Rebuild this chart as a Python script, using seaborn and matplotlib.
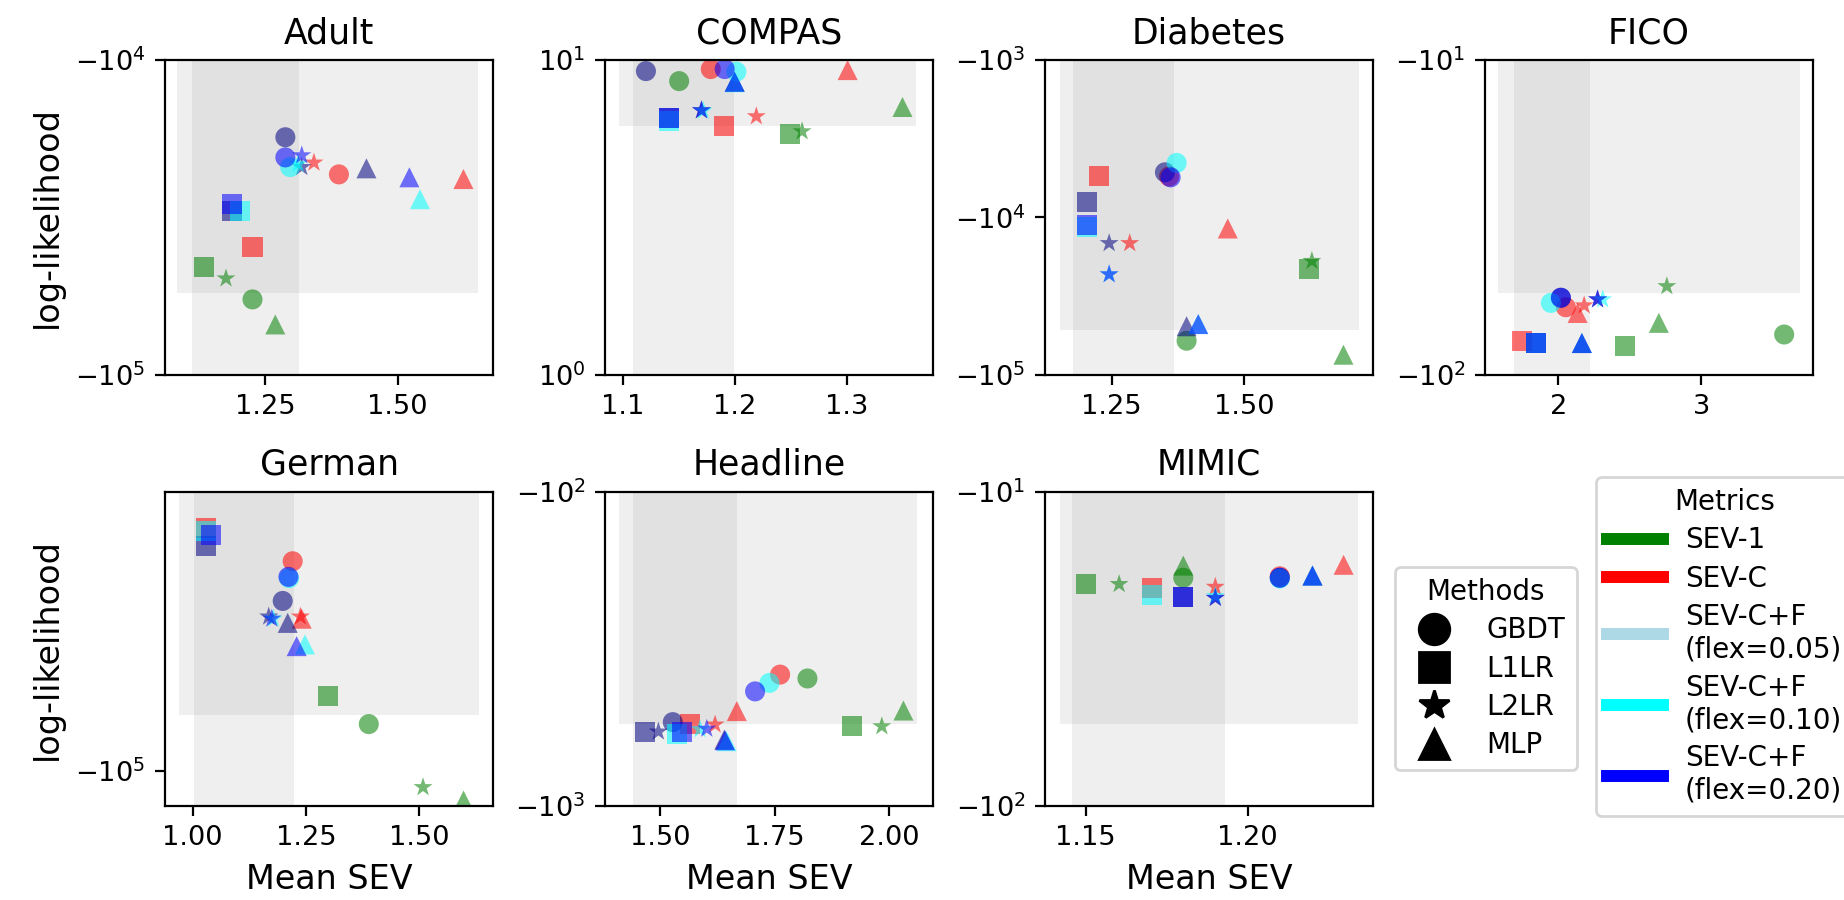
import numpy as np
import pandas as pd
import matplotlib
matplotlib.use('Agg')
import matplotlib.pyplot as plt
from matplotlib.lines import Line2D
from matplotlib.ticker import NullLocator
import seaborn as sns

DATASETS = ['Adult', 'COMPAS', 'Diabetes', 'FICO', 'German', 'Headline', 'MIMIC']
METRICS = ['SEV-1', 'SEV-C', 'SEV-C+F\n(flex=0.05)', 'SEV-C+F\n(flex=0.10)', 'SEV-C+F\n(flex=0.20)']
METHODS = ['GBDT', 'L1LR', 'L2LR', 'MLP']
MARKERS = ['o', 's', '*', '^']
POINT_COLORS = ['green', 'red', 'navy', 'cyan', 'blue']
LEGEND_COLORS = ['green', 'red', 'lightblue', 'cyan', 'blue']

# rows = metrics (SEV-1, SEV-C, flex .05, .10, .20), cols = GBDT, L1LR, L2LR, MLP
ADULT_X = [[1.226, 1.134, 1.176, 1.269],
           [1.389, 1.226, 1.342, 1.624],
           [1.288, 1.187, 1.319, 1.441],
           [1.297, 1.203, 1.312, 1.542],
           [1.288, 1.187, 1.319, 1.522]]
ADULT_Y = [[-57700, -45400, -49500, -69300],
           [-23100, -39400, -21200, -23900],
           [-17600, -30100, -21900, -22100],
           [-21900, -30100, -21400, -27700],
           [-20400, -28700, -20100, -23600]]

COMPAS_X = [[1.1505, 1.2489, 1.2601, 1.3496],
            [1.1787, 1.1905, 1.2193, 1.3007],
            [1.1209, 1.1416, 1.1704, 1.2000],
            [1.2015, 1.1416, 1.1720, 1.2000],
            [1.1911, 1.1416, 1.1704, 1.2000]]
COMPAS_Y = [[8.57, 5.83, 5.93, 7.09],
            [9.36, 6.19, 6.62, 9.29],
            [9.22, 6.52, 6.92, 8.53],
            [9.18, 6.42, 6.90, 8.50],
            [9.36, 6.52, 6.92, 8.53]]

DIABETES_X = [[1.391, 1.6209, 1.6272, 1.6867],
              [1.358, 1.2261, 1.2838, 1.4686],
              [1.3502, 1.203, 1.245, 1.391],
              [1.3722, 1.203, 1.245, 1.413],
              [1.3609, 1.203, 1.245, 1.413]]
DIABETES_Y = [[-60950, -21430, -18970, -74800],
              [-5500, -5483, -14620, -11780],
              [-5176, -7962, -14620, -49320],
              [-4508, -11500, -23070, -47750],
              [-5572, -11220, -23070, -47750]]

FICO_X = [[3.581, 2.469, 2.759, 2.703],
          [2.052, 1.743, 2.180, 2.134],
          [2.017, 1.841, 2.274, 2.164],
          [1.947, 1.841, 2.310, 2.164],
          [2.017, 1.841, 2.274, 2.164]]
FICO_Y = [[-74.6, -81.4, -52.4, -68.5],
          [-61.1, -78.5, -60.3, -63.7],
          [-57.0, -79.4, -57.7, -79.4],
          [-59.2, -79.4, -57.7, -79.4],
          [-57.0, -79.4, -57.7, -79.4]]

GERMAN_X = [[1.389, 1.2996, 1.5088, 1.5983],
            [1.2209, 1.0293, 1.238, 1.2408],
            [1.1989, 1.0293, 1.168, 1.2099],
            [1.213, 1.0293, 1.178, 1.248],
            [1.2115, 1.041, 1.1747, 1.2297]]
GERMAN_Y = [[-79250, -68870, -108400, -115800],
            [-35330, -29890, -46500, -46980],
            [-43020, -32810, -46500, -47970],
            [-38400, -30480, -46980, -53390],
            [-38180, -30970, -46980, -53830]]

HEADLINE_X = [[1.8212, 1.9193, 1.9833, 2.0304],
              [1.7616, 1.5654, 1.6199, 1.6672],
              [1.5277, 1.4673, 1.4964, 1.6400],
              [1.7383, 1.5364, 1.5870, 1.6450],
              [1.7071, 1.5473, 1.6018, 1.6417]]
HEADLINE_Y = [[-393, -558, -558, -497],
              [-382, -547, -551, -499],
              [-541, -582, -580, -615],
              [-406, -589, -570, -622],
              [-432, -582, -568, -618]]

MIMIC_X = [[1.1801, 1.1502, 1.1603, 1.1801],
           [1.2099, 1.1705, 1.1900, 1.2296],
           [1.2099, 1.1801, 1.1900, 1.2200],
           [1.2099, 1.1705, 1.1900, 1.2200],
           [1.2099, 1.1801, 1.1900, 1.2200]]
MIMIC_Y = [[-18.8, -19.7, -19.7, -17.2],
           [-18.6, -20.2, -20.1, -17.1],
           [-18.8, -21.6, -21.8, -18.5],
           [-18.9, -21.3, -21.5, -18.5],
           [-18.8, -21.6, -21.8, -18.5]]

ALL_X = [ADULT_X, COMPAS_X, DIABETES_X, FICO_X, GERMAN_X, HEADLINE_X, MIMIC_X]
ALL_Y = [ADULT_Y, COMPAS_Y, DIABETES_Y, FICO_Y, GERMAN_Y, HEADLINE_Y, MIMIC_Y]

XLIMS = [(1.061, 1.680), (1.0844, 1.3769), (1.124, 1.7425), (1.485, 3.783),
         (0.939, 1.6636), (1.380, 2.095), (1.1374, 1.2387)]
YLIMS = [(-1e5, -1e4), (1, 10), (-1e5, -1e3), (-100, -10),
         (-1.19e5, -2.5e4), (-1000, -100), (-100, -10)]
XTICKS = [[1.25, 1.50], [1.1, 1.2, 1.3], [1.25, 1.50], [2, 3],
          [1.00, 1.25, 1.50], [1.50, 1.75, 2.00], [1.15, 1.20]]
XTICKLABELS = [['1.25', '1.50'], ['1.1', '1.2', '1.3'], ['1.25', '1.50'], ['2', '3'],
               ['1.00', '1.25', '1.50'], ['1.50', '1.75', '2.00'], ['1.15', '1.20']]
# shaded ranges: vertical band (x0, x1) and horizontal band (x0, x1, y0, y1)
VBANDS = [(1.111, 1.314), (1.109, 1.1994), (1.1773, 1.3671), (1.689, 2.221),
          (1.0022, 1.2238), (1.4405, 1.6672), (1.1459, 1.1931)]
HBANDS = [(1.083, 1.651, -54900, -1e4), (1.0972, 1.3615, 6.19, 10),
          (1.1528, 1.7167, -51760, -1e3), (1.578, 3.691, -54.9, -10),
          (0.969, 1.6313, -75680, -2.5e4), (1.4113, 2.0596, -550, -100),
          (1.1421, 1.2339, -55.0, -10)]


def make_frame(xs, ys):
    rows = []
    for metric, xrow, yrow in zip(METRICS, xs, ys):
        for method, x, y in zip(METHODS, xrow, yrow):
            rows.append((metric, method, x, y))
    return pd.DataFrame(rows, columns=['metric', 'method', 'sev', 'll'])


fig, axes = plt.subplots(2, 4, figsize=(9.22, 4.5), dpi=200)
fig.subplots_adjust(left=0.0895, right=0.9832, top=0.9333, bottom=0.1044,
                    wspace=0.341, hspace=0.372)
axes = axes.flatten()
axes[7].axis('off')

palette = dict(zip(METRICS, POINT_COLORS))
markers = dict(zip(METHODS, MARKERS))

for i, name in enumerate(DATASETS):
    ax = axes[i]
    df = make_frame(ALL_X[i], ALL_Y[i])
    v0, v1 = VBANDS[i]
    h0, h1, hy0, hy1 = HBANDS[i]
    ax.axvspan(v0, v1, color='gray', alpha=0.12, lw=0, zorder=0)
    ax.fill_between([h0, h1], hy0, hy1, color='gray', alpha=0.12, lw=0, zorder=0)
    sns.scatterplot(data=df, x='sev', y='ll', hue='metric', style='method',
                    hue_order=METRICS, style_order=METHODS,
                    palette=palette, markers=markers, s=52, alpha=0.55,
                    linewidth=0, legend=False, ax=ax)
    if name == 'COMPAS':
        ax.set_yscale('log')
        ax.yaxis.set_minor_locator(NullLocator())
    else:
        ax.set_yscale('symlog')
    ax.set_xlim(*XLIMS[i])
    ax.set_ylim(*YLIMS[i])
    ax.set_xticks(XTICKS[i])
    ax.set_xticklabels(XTICKLABELS[i])
    ax.tick_params(labelsize=9.8)
    ax.set_title(name, fontsize=12.5)
    ax.set_xlabel('Mean SEV' if i >= 4 else '', fontsize=12)
    ax.set_ylabel('log-likelihood' if i in (0, 4) else '', fontsize=12)

method_handles = [Line2D([], [], marker=m, color='black', linestyle='None', markersize=11)
                  for m in MARKERS]
metric_handles = [Line2D([], [], color=c, lw=4.3) for c in LEGEND_COLORS]

fig.legend(method_handles, METHODS, title='Methods', loc='upper left',
           bbox_to_anchor=(0.7565, 0.37), borderaxespad=0, fontsize=10,
           title_fontsize=10, labelspacing=0.37, handletextpad=0.9)
fig.legend(metric_handles, METRICS, title='Metrics', loc='upper left',
           bbox_to_anchor=(0.8655, 0.47), borderaxespad=0, fontsize=10,
           title_fontsize=10, labelspacing=0.37)

fig.savefig('out.png', dpi=200)
